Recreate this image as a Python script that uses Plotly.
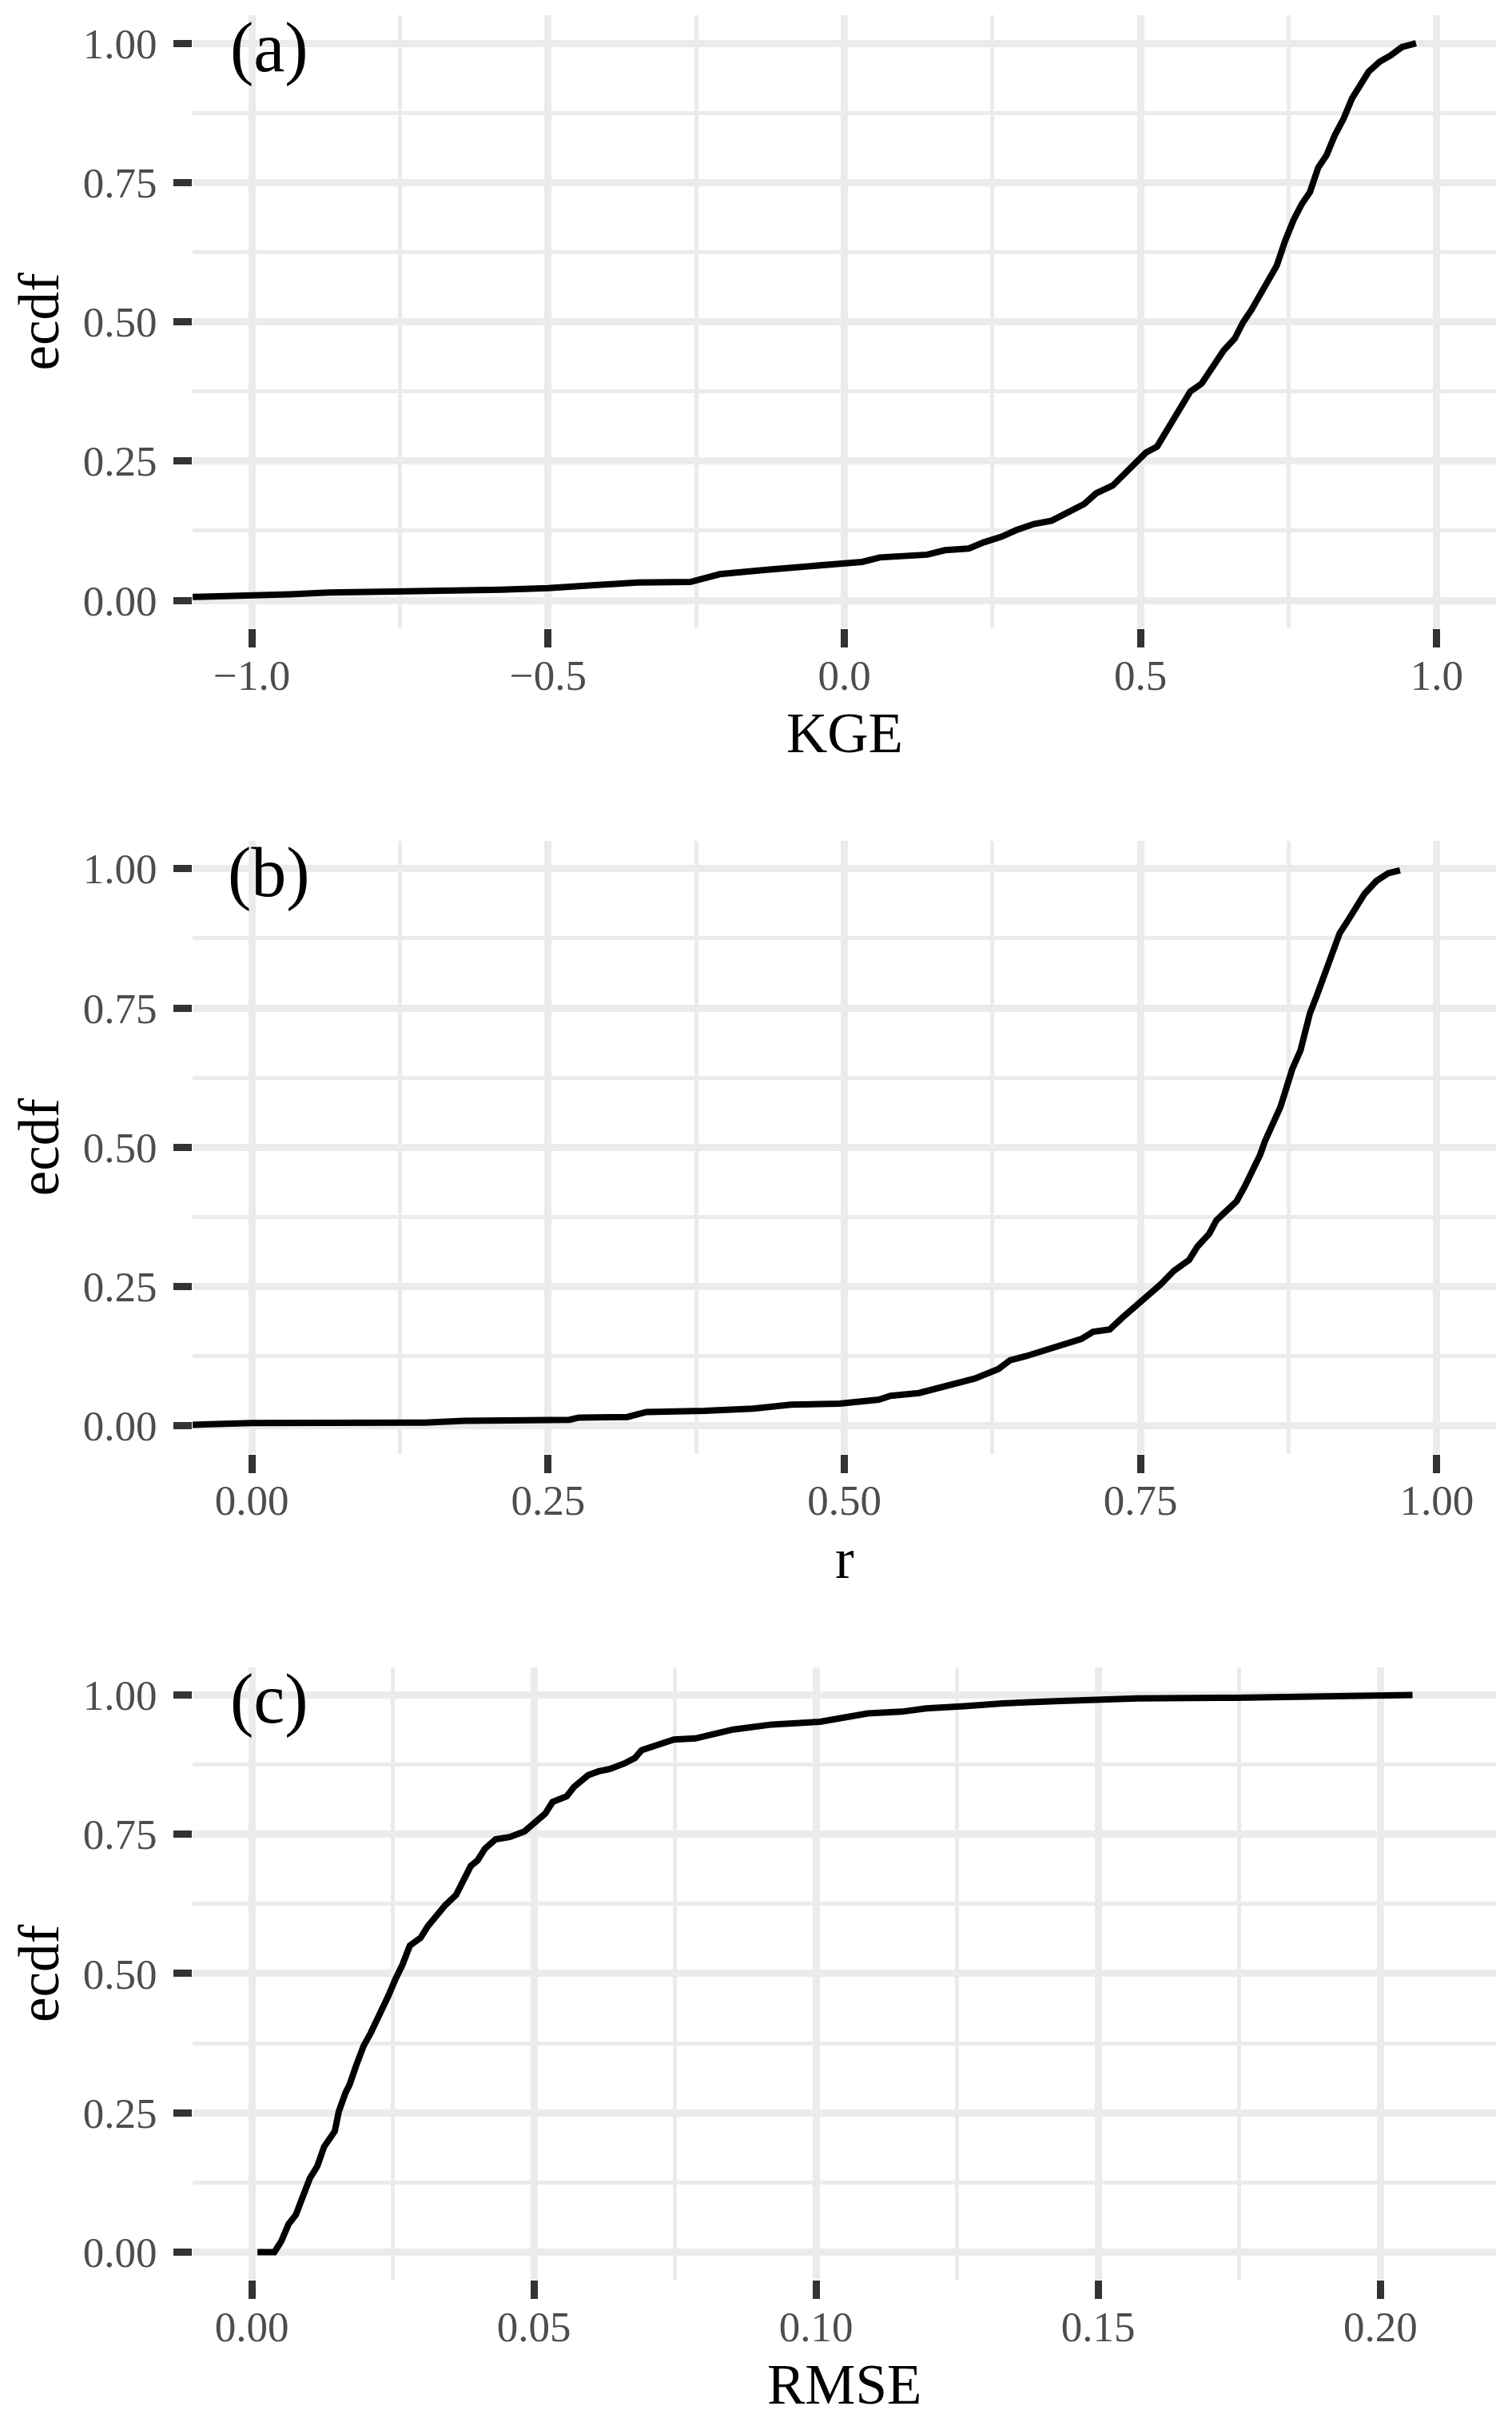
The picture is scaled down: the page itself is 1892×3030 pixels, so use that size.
import plotly.graph_objects as go

# page is 1892 x 3030; the html body keeps its default 8 px margin
PAGE_W, PAGE_H = 1892, 3030
OFF = 8
W, H = PAGE_W - 2 * OFF, PAGE_H - 2 * OFF

# ---------------------------------------------------------------------------
# Data (x value, ecdf)
# ---------------------------------------------------------------------------

kge_x = [-1.10, -0.99, -0.935, -0.87, -0.74, -0.58, -0.50, -0.42, -0.35, -0.26,
         -0.24, -0.21, -0.13, -0.08, -0.045, -0.01, 0.03, 0.06, 0.115, 0.14,
         0.17, 0.21, 0.235, 0.265, 0.29, 0.32, 0.35, 0.38, 0.405, 0.425,
         0.453, 0.471, 0.490, 0.509, 0.528, 0.547, 0.565, 0.584, 0.603, 0.622,
         0.640, 0.659, 0.673, 0.687, 0.702, 0.716, 0.730, 0.744, 0.758, 0.772,
         0.786, 0.800, 0.814, 0.828, 0.843, 0.857, 0.871, 0.885, 0.904, 0.922,
         0.941, 0.965]
kge_ecdf = [0.006, 0.008, 0.011, 0.014, 0.015, 0.019, 0.022, 0.028, 0.032, 0.033,
            0.039, 0.047, 0.055, 0.059, 0.061, 0.066, 0.069, 0.077, 0.080, 0.082,
            0.090, 0.093, 0.104, 0.114, 0.126, 0.137, 0.143, 0.159, 0.173, 0.192,
            0.206, 0.225, 0.247, 0.265, 0.276, 0.309, 0.345, 0.375, 0.389, 0.418,
            0.448, 0.470, 0.499, 0.521, 0.550, 0.579, 0.601, 0.645, 0.682, 0.711,
            0.733, 0.777, 0.799, 0.835, 0.865, 0.901, 0.923, 0.949, 0.967, 0.978,
            0.993, 1.000]

r_x = [-0.05, 0.0, 0.146, 0.179, 0.268, 0.276, 0.317, 0.333, 0.382, 0.423,
       0.455, 0.496, 0.529, 0.539, 0.563, 0.580, 0.600, 0.610, 0.630, 0.640,
       0.653, 0.667, 0.684, 0.700, 0.710, 0.724, 0.734, 0.747, 0.757, 0.767,
       0.778, 0.791, 0.798, 0.808, 0.814, 0.824, 0.831, 0.838, 0.845, 0.851,
       0.855, 0.861, 0.868, 0.873, 0.878, 0.885, 0.890, 0.893, 0.898, 0.903,
       0.908, 0.913, 0.918, 0.925, 0.932, 0.939, 0.949, 0.959, 0.969]
r_ecdf = [0.002, 0.005, 0.006, 0.009, 0.011, 0.015, 0.016, 0.025, 0.027, 0.031,
          0.038, 0.040, 0.047, 0.054, 0.059, 0.068, 0.078, 0.085, 0.102, 0.118,
          0.125, 0.135, 0.146, 0.156, 0.169, 0.173, 0.193, 0.217, 0.234, 0.254,
          0.278, 0.298, 0.322, 0.345, 0.369, 0.389, 0.403, 0.430, 0.460, 0.487,
          0.511, 0.538, 0.572, 0.606, 0.640, 0.674, 0.714, 0.741, 0.768, 0.796,
          0.829, 0.850, 0.884, 0.907, 0.931, 0.955, 0.978, 0.992, 0.997]

rmse_x = [0.001, 0.004, 0.0052, 0.0065, 0.0078, 0.0090, 0.0103, 0.0116, 0.0128, 0.0147,
          0.0154, 0.0166, 0.0173, 0.0185, 0.0198, 0.0211, 0.0223, 0.0233, 0.0242, 0.0255,
          0.0267, 0.0280, 0.0299, 0.0312, 0.0331, 0.0343, 0.0362, 0.0375, 0.0388, 0.0400,
          0.0413, 0.0432, 0.0457, 0.0483, 0.0501, 0.0520, 0.0533, 0.0558, 0.0571, 0.0596,
          0.0615, 0.0634, 0.0660, 0.0679, 0.0691, 0.0710, 0.0735, 0.0748, 0.0786, 0.0824,
          0.0853, 0.0922, 0.1007, 0.1041, 0.1092, 0.1152, 0.1195, 0.1263, 0.1331, 0.1433,
          0.1570, 0.1741, 0.1945, 0.2057]
rmse_ecdf = [0.0, 0.0, 0.019, 0.050, 0.067, 0.102, 0.133, 0.154, 0.189, 0.217,
             0.252, 0.286, 0.300, 0.335, 0.370, 0.394, 0.418, 0.439, 0.460, 0.491,
             0.516, 0.550, 0.564, 0.585, 0.609, 0.623, 0.641, 0.665, 0.693, 0.703,
             0.724, 0.741, 0.745, 0.755, 0.769, 0.787, 0.808, 0.818, 0.835, 0.856,
             0.863, 0.867, 0.877, 0.887, 0.901, 0.908, 0.915, 0.920, 0.922, 0.930,
             0.938, 0.947, 0.952, 0.958, 0.967, 0.970, 0.976, 0.980, 0.985, 0.989,
             0.994, 0.995, 0.998, 1.000]

kge_ticks = [-1.0, -0.5, 0.0, 0.5, 1.0]
kge_labels = ["\u22121.0", "\u22120.5", "0.0", "0.5", "1.0"]
kge_minor = [-0.75, -0.25, 0.25, 0.75]

r_ticks = [0.0, 0.25, 0.5, 0.75, 1.0]
r_labels = ["0.00", "0.25", "0.50", "0.75", "1.00"]
r_minor = [0.125, 0.375, 0.625, 0.875]

rmse_ticks = [0.0, 0.05, 0.10, 0.15, 0.20]
rmse_labels = ["0.00", "0.05", "0.10", "0.15", "0.20"]
rmse_minor = [0.025, 0.075, 0.125, 0.175]

ecdf_ticks = [0.0, 0.25, 0.5, 0.75, 1.0]
ecdf_labels = ["0.00", "0.25", "0.50", "0.75", "1.00"]
ecdf_minor = [0.125, 0.375, 0.625, 0.875]

# ---------------------------------------------------------------------------
# Layout helpers (page pixel positions of each panel)
# ---------------------------------------------------------------------------

FONT = "Liberation Serif"
GRID = "#EBEBEB"
LEFT, RIGHT = 241, 1872
PANEL_H = 766.7
TOPS = [19.2, 1052.0, 2085.6]


def px_x(p):
    return (p - OFF) / W


def px_y(p):
    return 1 - (p - OFF) / H


panels = [
    dict(x=kge_x, y=kge_ecdf, rng=[-1.1, 1.1], ticks=kge_ticks,
         labels=kge_labels, minor=kge_minor, title="KGE", tag="(a)"),
    dict(x=r_x, y=r_ecdf, rng=[-0.05, 1.05], ticks=r_ticks,
         labels=r_labels, minor=r_minor, title="r", tag="(b)"),
    dict(x=rmse_x, y=rmse_ecdf, rng=[-0.0105, 0.2205], ticks=rmse_ticks,
         labels=rmse_labels, minor=rmse_minor, title="RMSE", tag="(c)"),
]

fig = go.Figure()
annotations = []
layout_axes = {}

for i, p in enumerate(panels, start=1):
    sfx = "" if i == 1 else str(i)
    top = TOPS[i - 1]
    bottom = top + PANEL_H

    fig.add_trace(go.Scatter(
        x=p["x"], y=p["y"],
        mode="lines",
        line=dict(color="black", width=8),
        xaxis="x" + sfx, yaxis="y" + sfx,
        showlegend=False, hoverinfo="skip",
    ))

    common = dict(
        ticks="outside", ticklen=23, tickwidth=9, tickcolor="#333333",
        tickfont=dict(family=FONT, size=53, color="#4D4D4D"),
        showgrid=True, gridcolor=GRID, gridwidth=9,
        zeroline=False, showline=False, automargin=False, fixedrange=True,
    )
    layout_axes["xaxis" + sfx] = dict(
        domain=[px_x(LEFT), px_x(RIGHT)], anchor="y" + sfx,
        range=p["rng"], tickmode="array", tickvals=p["ticks"], ticktext=p["labels"],
        minor=dict(tickvals=p["minor"], showgrid=True, gridcolor=GRID,
                   gridwidth=4.5, ticks=""),
        ticklabelstandoff=-11,
        **common,
    )
    layout_axes["yaxis" + sfx] = dict(
        domain=[px_y(bottom), px_y(top)], anchor="x" + sfx,
        range=[-0.05, 1.05], tickmode="array", tickvals=ecdf_ticks, ticktext=ecdf_labels,
        minor=dict(tickvals=ecdf_minor, showgrid=True, gridcolor=GRID,
                   gridwidth=4.5, ticks=""),
        ticklabelstandoff=10,
        **common,
    )

    # axis titles
    annotations.append(dict(
        text="ecdf", textangle=-90, x=px_x(49), y=px_y(top + PANEL_H / 2),
        xref="paper", yref="paper", xanchor="center", yanchor="middle",
        showarrow=False, borderpad=0,
        font=dict(family=FONT, size=71, color="black"),
    ))
    annotations.append(dict(
        text=p["title"], x=px_x((LEFT + RIGHT) / 2), y=px_y(bottom + 131),
        xref="paper", yref="paper", xanchor="center", yanchor="middle",
        showarrow=False, borderpad=0,
        font=dict(family=FONT, size=71, color="black"),
    ))
    # panel tag
    annotations.append(dict(
        text=p["tag"], x=px_x(336.5), y=px_y(top + 34.85 + 5),
        xref="paper", yref="paper", xanchor="center", yanchor="middle",
        showarrow=False, font=dict(family=FONT, size=88, color="black"),
    ))

fig.update_layout(
    width=W, height=H,
    margin=dict(l=0, r=0, t=0, b=0),
    paper_bgcolor="white", plot_bgcolor="white",
    annotations=annotations,
    **layout_axes,
)

fig.write_html("out.html")
